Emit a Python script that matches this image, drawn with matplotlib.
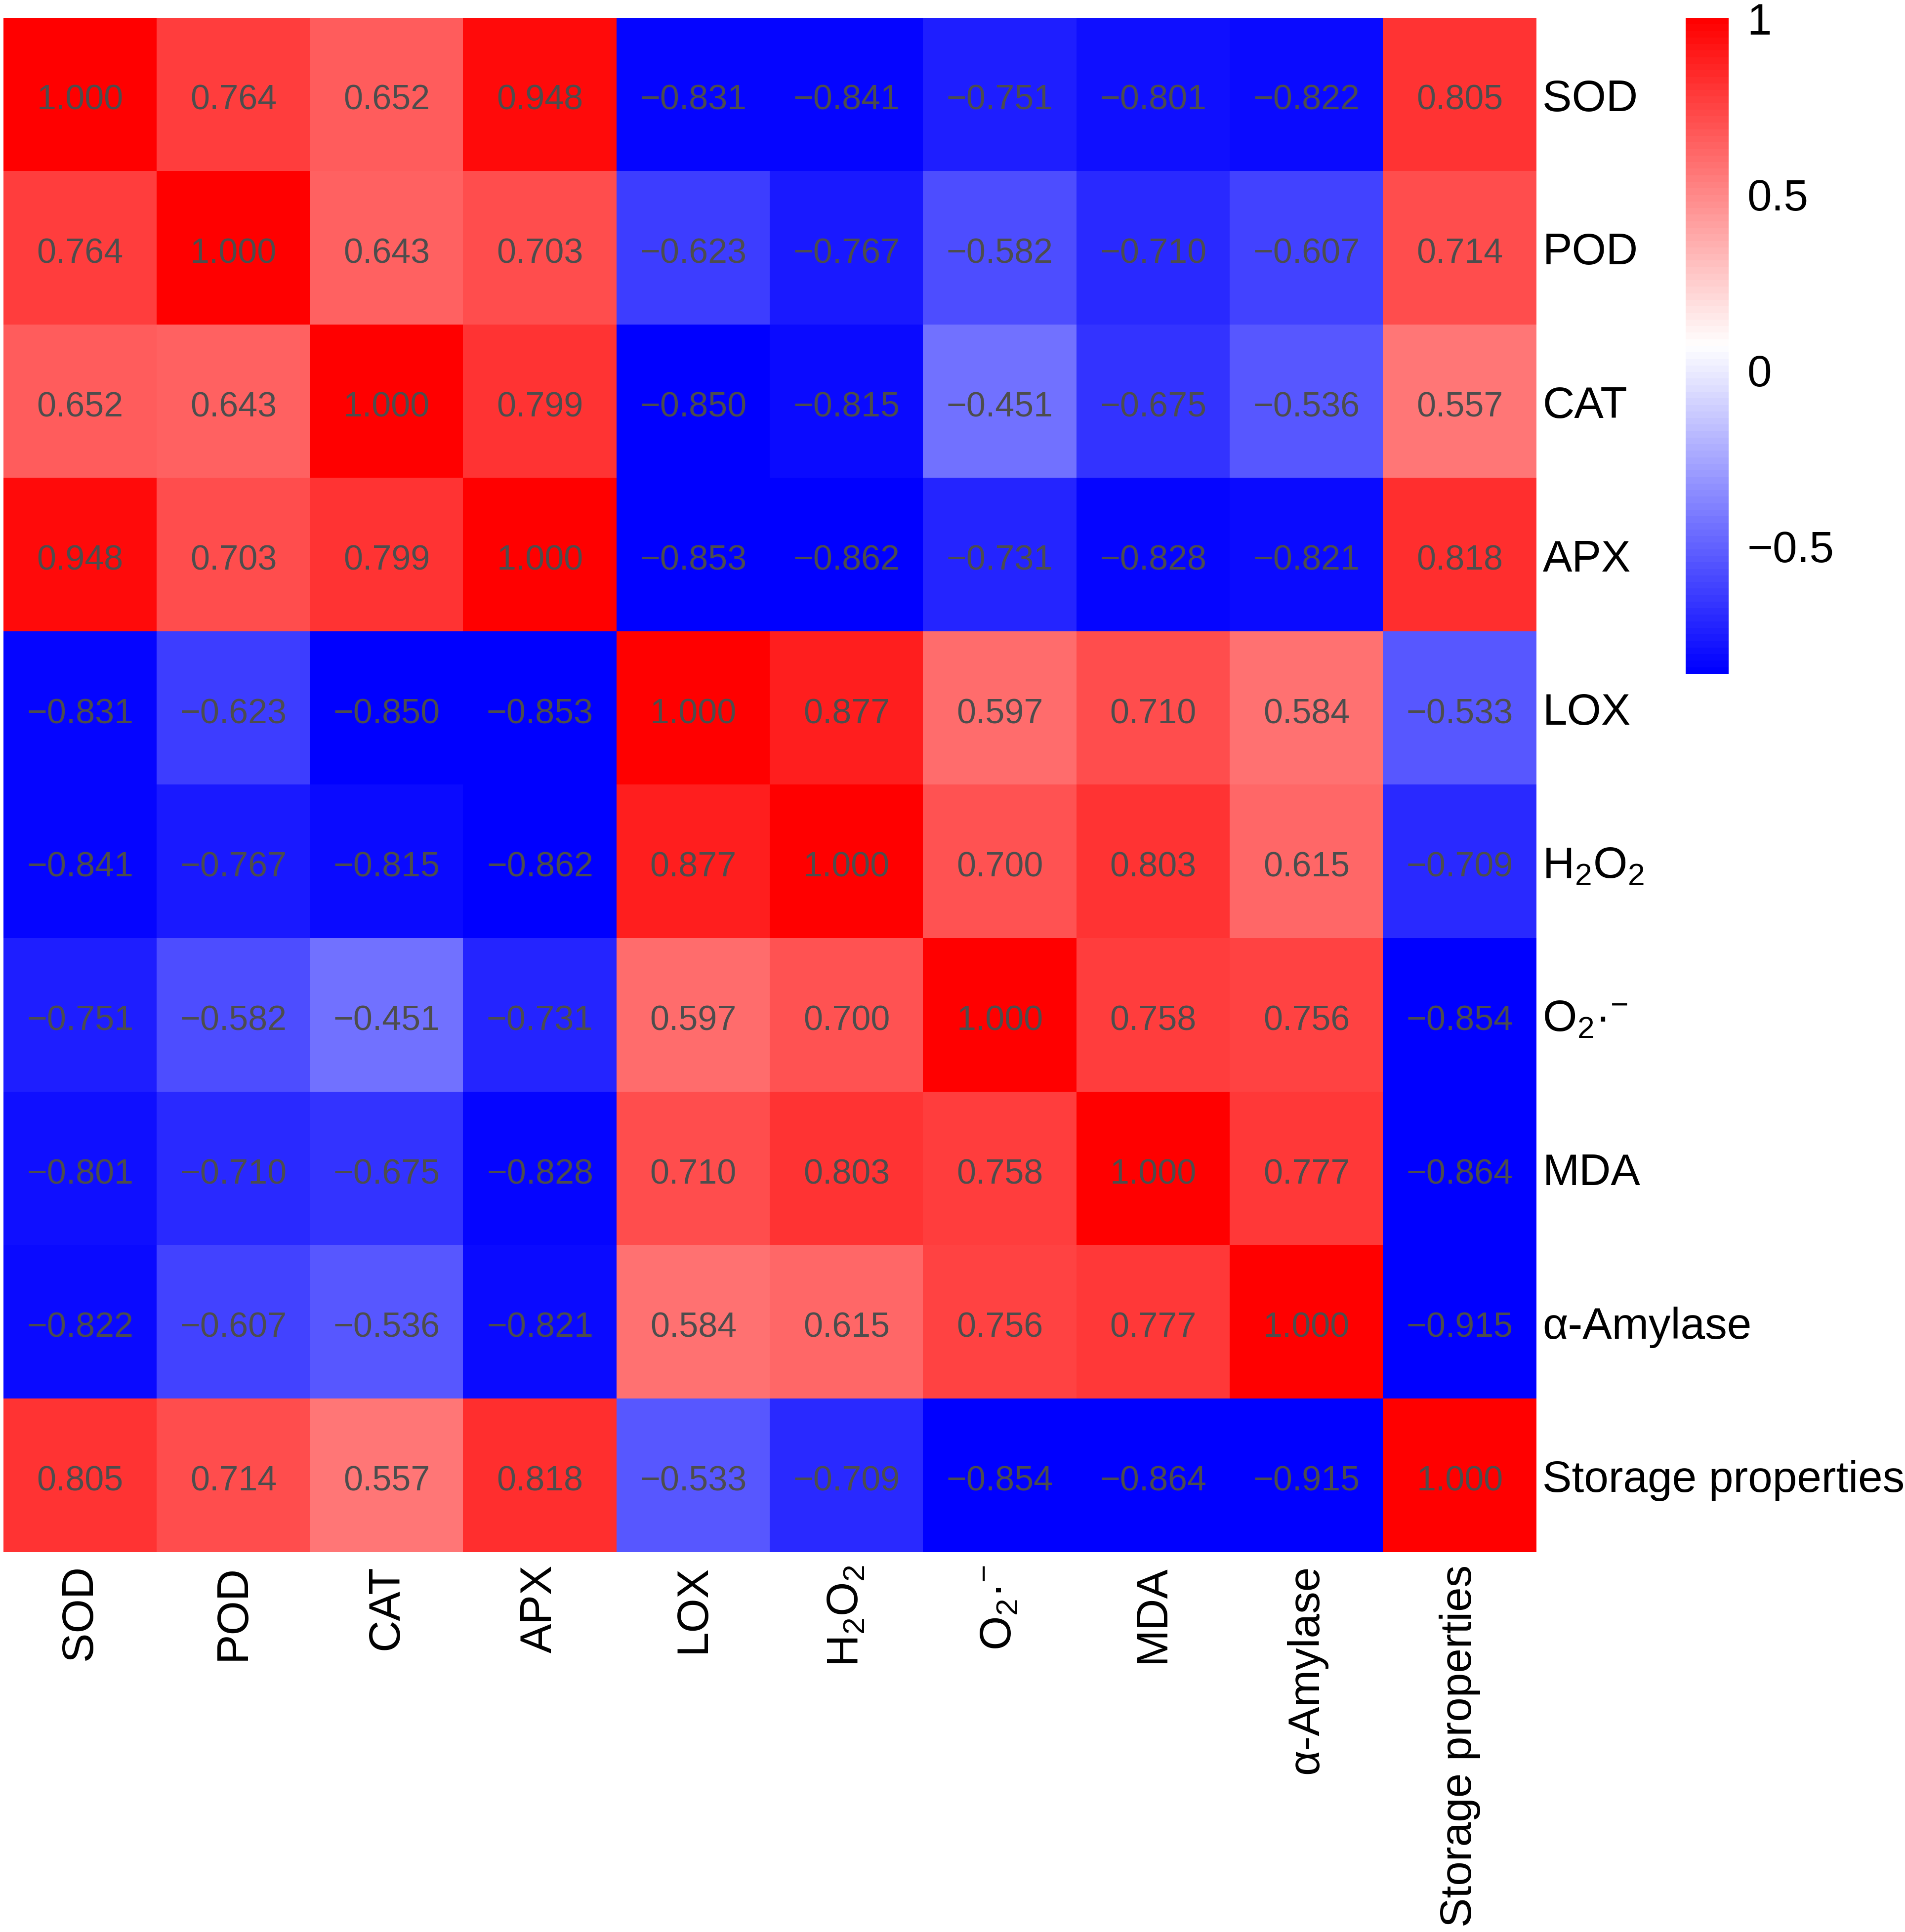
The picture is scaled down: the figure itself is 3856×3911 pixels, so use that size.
import numpy as np
import matplotlib
matplotlib.use("Agg")
import matplotlib.pyplot as plt
from matplotlib.colors import LinearSegmentedColormap

plt.rcParams["font.family"] = ["Liberation Sans", "DejaVu Sans"]
plt.rcParams["mathtext.fontset"] = "custom"
plt.rcParams["mathtext.rm"] = "Liberation Sans"
plt.rcParams["mathtext.it"] = "Liberation Sans:italic"
plt.rcParams["mathtext.bf"] = "Liberation Sans:bold"

# variables (rows / columns)
labels = ["SOD", "POD", "CAT", "APX", "LOX", r"H$_2$O$_2$", r"O$_2$·$^{-}$",
          "MDA", "α-Amylase", "Storage properties"]

# correlation rows
sod     = [1.000, 0.764, 0.652, 0.948, -0.831, -0.841, -0.751, -0.801, -0.822, 0.805]
pod     = [0.764, 1.000, 0.643, 0.703, -0.623, -0.767, -0.582, -0.710, -0.607, 0.714]
cat     = [0.652, 0.643, 1.000, 0.799, -0.850, -0.815, -0.451, -0.675, -0.536, 0.557]
apx     = [0.948, 0.703, 0.799, 1.000, -0.853, -0.862, -0.731, -0.828, -0.821, 0.818]
lox     = [-0.831, -0.623, -0.850, -0.853, 1.000, 0.877, 0.597, 0.710, 0.584, -0.533]
h2o2    = [-0.841, -0.767, -0.815, -0.862, 0.877, 1.000, 0.700, 0.803, 0.615, -0.709]
o2      = [-0.751, -0.582, -0.451, -0.731, 0.597, 0.700, 1.000, 0.758, 0.756, -0.854]
mda     = [-0.801, -0.710, -0.675, -0.828, 0.710, 0.803, 0.758, 1.000, 0.777, -0.864]
amylase = [-0.822, -0.607, -0.536, -0.821, 0.584, 0.615, 0.756, 0.777, 1.000, -0.915]
storage = [0.805, 0.714, 0.557, 0.818, -0.533, -0.709, -0.854, -0.864, -0.915, 1.000]

mat = np.array([sod, pod, cat, apx, lox, h2o2, o2, mda, amylase, storage])

cbar_ticks = [1, 0.5, 0, -0.5]
cbar_labels = ["1", "0.5", "0", "\u22120.5"]

W, H = 3856, 3912
DPI = 300
fig = plt.figure(figsize=(W / DPI, H / DPI), dpi=DPI)

cmap = LinearSegmentedColormap.from_list("bwr100", ["#0000FF", "#FFFFFF", "#FF0000"], N=100)
vmin, vmax = -0.865, 1.0

# heatmap area in pixels
hx0, hx1, hy0, hy1 = 7, 3110, 37, 3143
ax = fig.add_axes([hx0 / W, 1 - hy1 / H, (hx1 - hx0) / W, (hy1 - hy0) / H])
im = ax.imshow(mat, cmap=cmap, vmin=vmin, vmax=vmax, aspect="auto", interpolation="nearest")

n = len(labels)
for i in range(n):
    for j in range(n):
        txt = f"{mat[i, j]:.3f}".replace("-", "\u2212")
        # baseline placement so digits sit on the cell centre
        ax.text(j, i + 0.095, txt, ha="center", va="baseline", fontsize=16.8, color="#4D4D4D")

ax.set_xticks(range(n))
ax.set_xticklabels(labels, rotation=90, fontsize=21.4)
ax.set_yticks(range(n))
ax.set_yticklabels(labels, fontsize=21.4)
ax.yaxis.tick_right()
ax.tick_params(axis="x", length=0, pad=6)
ax.tick_params(axis="y", length=0, pad=3)
for s in ax.spines.values():
    s.set_visible(False)

# colour legend
cx0, cx1, cy0, cy1 = 3412, 3499, 37, 1365
cax = fig.add_axes([cx0 / W, 1 - cy1 / H, (cx1 - cx0) / W, (cy1 - cy0) / H])
cb = fig.colorbar(im, cax=cax)
cb.outline.set_visible(False)
cb.set_ticks(cbar_ticks)
cb.set_ticklabels(cbar_labels)
cax.tick_params(length=0, labelsize=21.4, pad=9)

fig.savefig("out.png", dpi=DPI)
